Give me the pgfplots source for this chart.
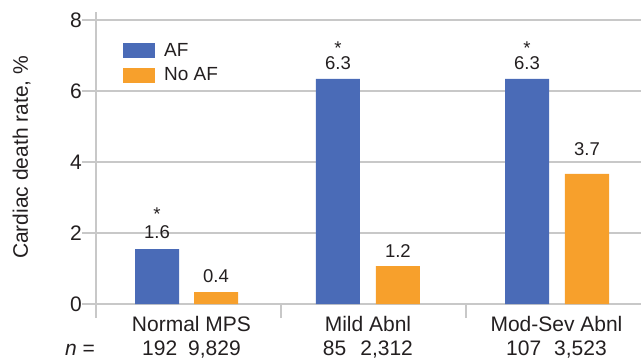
\documentclass[border=0pt]{standalone}
\usepackage{pgfplots}
\pgfplotsset{compat=1.18}
\usepackage{fontspec}
\setmainfont{Liberation Sans}
\definecolor{afblue}{RGB}{74,107,183}
\definecolor{noaf}{RGB}{247,160,44}
\definecolor{gridgray}{RGB}{200,200,200}
\definecolor{txt}{RGB}{35,31,32}
\begin{document}
\begin{tikzpicture}
\begin{axis}[
  scale only axis,
  width=545bp, height=292bp,
  xmin=-0.5, xmax=2.446,
  ymin=0, ymax=8.225,
  clip=false,
  axis lines=left,
  axis line style={-, draw=gridgray, line width=1.2bp},
  tick align=outside,
  major tick length=14bp,
  tick style={draw=gridgray, line width=1.2bp},
  ytick={0,2,4,6,8},
  ymajorgrids,
  grid style={draw=gridgray, line width=1.2bp},
  /pgf/number format/assume math mode=true,
  yticklabel style={font=\fontsize{21bp}{25bp}\selectfont, text=txt, inner sep=0pt},
  xtick={0.016,0.970,1.989},
  xticklabels={{Normal MPS\\192\hspace{11bp}9,829},{Mild Abnl\\85\hspace{14bp}2,312},{Mod-Sev Abnl\\107\hspace{13bp}3,523}},
  xtick style={draw=none},
  xticklabel style={align=center, font=\fontsize{21bp}{24bp}\selectfont, text=txt, inner sep=0pt, anchor=north, yshift=1.5bp},
  extra x ticks={-0.5,0.5,1.5},
  extra x tick labels={},
  extra x tick style={xtick style={draw=gridgray, line width=1.2bp}, major tick length=14bp},
  ylabel={Cardiac death rate, \%},
  every axis y label/.style={at={(axis description cs:-0.1248,0.502)}, rotate=90, anchor=base, font=\fontsize{21bp}{25bp}\selectfont, text=txt},
  legend style={draw=none, fill=none, at={(0.0495,0.9007)}, anchor=north west, font=\fontsize{19bp}{22bp}\selectfont, text=txt, inner sep=0pt, row sep=6bp, cells={anchor=west},
    /tikz/every odd column/.append style={column sep=7bp}},
]
\addplot[ybar, bar width=0.238, bar shift=0pt, fill=afblue, draw=none,
  legend image code/.code={\fill[afblue] (0bp,-7.5bp) rectangle (32bp,7.5bp);}]
  coordinates {(-0.170,1.549) (0.808,6.338) (1.830,6.338)};
\addlegendentry{AF}
\addplot[ybar, bar width=0.238, bar shift=0pt, fill=noaf, draw=none,
  legend image code/.code={\fill[noaf] (0bp,-7.5bp) rectangle (32bp,7.5bp);}]
  coordinates {(0.149,0.338) (1.132,1.070) (2.154,3.662)};
\addlegendentry{No AF}
\addplot[draw=none, mark=none, forget plot, nodes near coords, point meta=explicit symbolic,
  every node near coord/.append style={font=\fontsize{18.5bp}{20bp}\selectfont, text=txt, inner sep=0pt, anchor=base}]
  coordinates {
  (-0.170,1.859) [1.6]
  (-0.170,2.338) [*]
  (0.149,0.592) [0.4]
  (0.808,6.592) [6.3]
  (0.808,7.014) [*]
  (1.132,1.296) [1.2]
  (1.830,6.592) [6.3]
  (1.830,7.014) [*]
  (2.154,4.169) [3.7]
  };
\node[anchor=base west, font=\fontsize{21bp}{25bp}\selectfont, text=txt, inner sep=0pt] at (axis description cs:-0.0569,-0.178) {\textit{n} =};
\end{axis}
\pgfresetboundingbox
\path (-96bp,-58bp) rectangle (545bp,304bp);
\end{tikzpicture}
\end{document}
